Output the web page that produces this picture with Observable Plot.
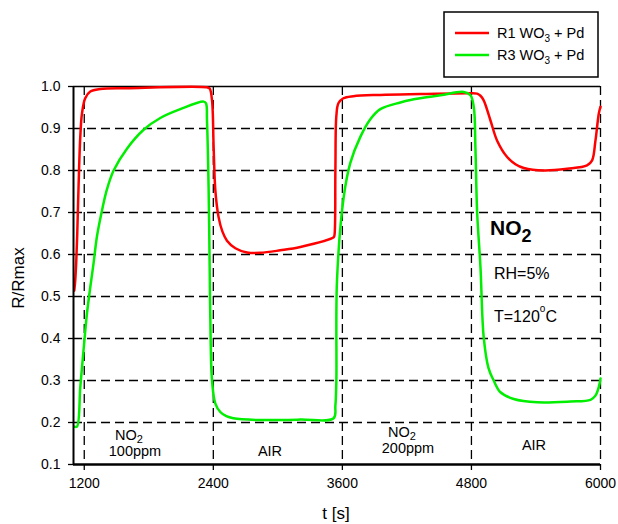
<!DOCTYPE html>
<html><head><meta charset="utf-8">
<script src="https://cdn.jsdelivr.net/npm/d3@7"></script>
<script src="https://cdn.jsdelivr.net/npm/@observablehq/plot@0.6"></script>
<style>
body{margin:0;background:#fff}
#chart{position:relative;width:618px;height:524px}
</style>
</head><body><div id="chart"></div>
<script>
// ---- data ----
const xTicks = [1200, 2400, 3600, 4800, 6000];
const yTicks = [0.1, 0.2, 0.3, 0.4, 0.5, 0.6, 0.7, 0.8, 0.9, 1.0];
const yGrid = [0.2, 0.3, 0.4, 0.5, 0.6, 0.7, 0.8, 0.9];
const seriesNames = ["R1 WO3 + Pd", "R3 WO3 + Pd"];

const tRed = [1107,1116,1126,1135,1147,1163,1179,1209,1256,1349,1597,2341,2366,2388,2403,2419,2449,2484,2527,2605,2713,2837,3023,3209,3519,3526,3535,3544,3563,3609,3702,3953,4326,4791,4853,4884,4914,4977,5039,5132,5209,5287,5473,5690,5875,5922,5953,5984,6000];
const vRed = [0.514,0.538,0.586,0.65,0.762,0.88,0.936,0.972,0.988,0.994,0.996,0.998,0.995,0.967,0.855,0.752,0.689,0.655,0.633,0.615,0.605,0.604,0.61,0.618,0.641,0.645,0.8,0.93,0.96,0.972,0.977,0.98,0.982,0.984,0.983,0.978,0.967,0.919,0.871,0.832,0.815,0.806,0.8,0.804,0.812,0.824,0.871,0.935,0.952];

const tGreen = [1107,1132,1163,1193,1225,1256,1287,1318,1365,1411,1473,1597,1752,1907,2093,2310,2332,2341,2356,2366,2372,2388,2419,2465,2521,2586,2806,3209,3519,3535,3544,3550,3612,3674,3767,3860,3953,4139,4233,4512,4728,4791,4822,4837,4853,4884,4914,4958,5007,5070,5193,5411,5721,5907,5953,5984,6000];
const vGreen = [0.19,0.19,0.284,0.371,0.459,0.522,0.58,0.643,0.705,0.755,0.8,0.852,0.897,0.925,0.946,0.964,0.96,0.921,0.762,0.571,0.45,0.3,0.245,0.225,0.215,0.21,0.206,0.207,0.21,0.24,0.3,0.538,0.736,0.818,0.88,0.922,0.946,0.962,0.968,0.979,0.987,0.979,0.951,0.855,0.7,0.57,0.403,0.33,0.3,0.272,0.256,0.248,0.25,0.254,0.264,0.284,0.305];

const red = tRed.map((t, i) => ({t, v: vRed[i]}));
const green = tGreen.map((t, i) => ({t, v: vGreen[i]}));

const FONT = "'Liberation Sans', Arial, Helvetica, sans-serif";
const dash = "9,5";

const plot = Plot.plot({
  width: 618, height: 524,
  marginLeft: 73, marginRight: 18, marginTop: 86, marginBottom: 60,
  style: {fontFamily: FONT, fontSize: "14px", color: "#000", background: "#fff", overflow: "visible"},
  x: {domain: [1100, 6000]},
  y: {domain: [0.1, 1.0]},
  marks: [
    Plot.ruleX(xTicks, {stroke: "#000", strokeWidth: 1.3, strokeDasharray: dash}),
    Plot.ruleY(yGrid, {stroke: "#000", strokeWidth: 1.3, strokeDasharray: dash}),
    Plot.ruleY([1.0], {stroke: "#000", strokeWidth: 1.6}),
    Plot.line(red, {x: "t", y: "v", stroke: "#ff0000", strokeWidth: 2.5, curve: "catmull-rom"}),
    Plot.line(green, {x: "t", y: "v", stroke: "#00ee00", strokeWidth: 2.5, curve: "catmull-rom"}),
    Plot.ruleX([1100], {stroke: "#000", strokeWidth: 2}),
    Plot.ruleY([0.1], {stroke: "#000", strokeWidth: 2.6}),
    Plot.axisX({ticks: xTicks, tickSize: 6, tickPadding: 8, tickFormat: d3.format("d"), label: null, fontSize: 14, strokeWidth: 1.3}),
    Plot.axisY({ticks: yTicks, tickSize: 5, tickPadding: 8, tickFormat: d3.format(".1f"), label: null, fontSize: 14, strokeWidth: 1.3})
  ]
});
document.getElementById("chart").appendChild(plot);

const svg = d3.select(plot);
const g = svg.append("g").attr("font-family", FONT).attr("fill", "#000");

// text helper: parts = [[text, dy, size]]
function label(x, y, parts, opts = {}) {
  const t = g.append("text").attr("x", x).attr("y", y)
    .attr("font-size", opts.size || 14.5)
    .attr("text-anchor", opts.anchor || "start");
  if (opts.weight) t.attr("font-weight", opts.weight);
  if (opts.transform) t.attr("transform", opts.transform);
  parts.forEach(p => {
    const s = t.append("tspan").text(p[0]);
    if (p[1]) s.attr("dy", p[1]);
    if (p[2]) s.attr("font-size", p[2]);
  });
  return t;
}

// axis titles
label(0, 0, [["R/Rmax"]], {size: 17, anchor: "middle", transform: "translate(23.5,278) rotate(-90)"});
label(336, 519, [["t [s]"]], {size: 17, anchor: "middle"});

// phase labels
label(129, 440, [["NO"], ["2", 2.5, 11]], {anchor: "middle"});
label(135, 456, [["100ppm"]], {anchor: "middle"});
label(270, 456, [["AIR"]], {anchor: "middle"});
label(402, 437, [["NO"], ["2", 2.5, 11]], {anchor: "middle"});
label(408, 453, [["200ppm"]], {anchor: "middle"});
label(534, 450, [["AIR"]], {anchor: "middle"});

// condition annotations
label(490, 235, [["NO"], ["2", 7, 18]], {size: 21, weight: "bold"});
label(494, 279, [["RH=5%"]], {size: 16});
label(494, 322, [["T=120"], ["o", -10, 10], ["C", 10]], {size: 16});

// legend
const lg = svg.append("g").attr("font-family", FONT).attr("text-anchor", "start");
lg.append("rect").attr("x", 444).attr("y", 12).attr("width", 154).attr("height", 65)
  .attr("fill", "#fff").attr("stroke", "#000").attr("stroke-width", 1.5);
const legendColors = ["#ff0000", "#00ee00"];
const legendY = [33, 55];
seriesNames.forEach((name, i) => {
  lg.append("line").attr("x1", 455).attr("x2", 489).attr("y1", legendY[i]).attr("y2", legendY[i])
    .attr("stroke", legendColors[i]).attr("stroke-width", 2.5);
  const t = lg.append("text").attr("x", 497).attr("y", legendY[i] + 4.5)
    .attr("font-size", 14.5).attr("fill", "#000").attr("text-anchor", "start");
  const m = name.match(/^(.*WO)(\d)(.*)$/);
  t.append("tspan").text(m[1]);
  t.append("tspan").text(m[2]).attr("font-size", 10).attr("dy", 4);
  t.append("tspan").text(m[3]).attr("dy", -4);
});
</script>
</body></html>
